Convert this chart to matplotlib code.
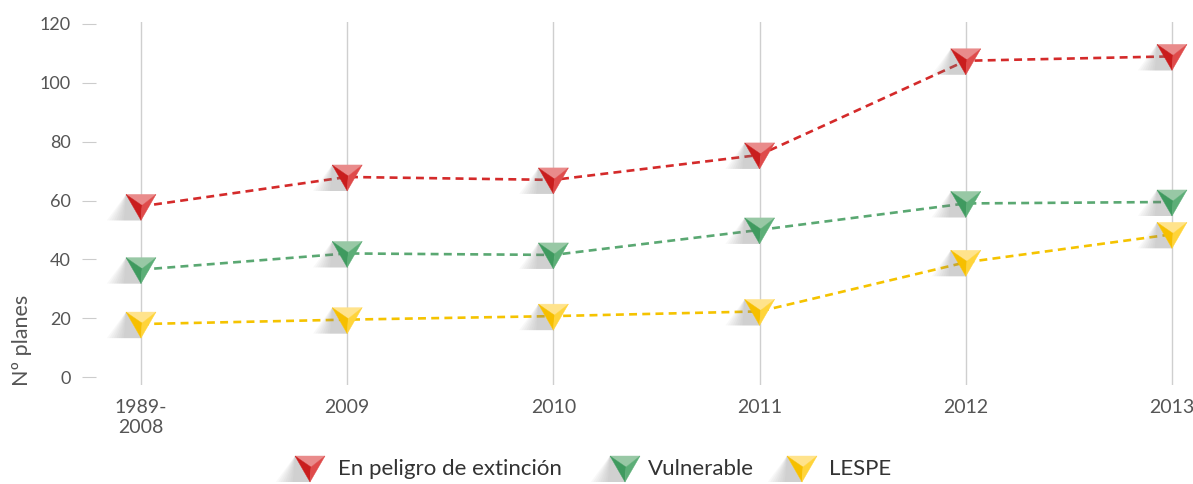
import matplotlib
matplotlib.use('agg')
import matplotlib.pyplot as plt
from matplotlib.patches import Polygon
from matplotlib import transforms

# Data
years = ['1989-\n2008', '2009', '2010', '2011', '2012', '2013']
peligro = [58, 68, 67, 75.5, 107.5, 109]
vulnerable = [36.5, 42, 41.5, 50, 59, 59.5]
lespe = [18, 19.5, 20.7, 22.3, 39, 48.5]

series = [
    ("En peligro de extinción", peligro, "#d42a2a", ("#e98b8b", "#c91d1d", "#df4b4b")),
    ("Vulnerable", vulnerable, "#5aa872", ("#98c8a5", "#3f9a5f", "#5cae77")),
    ("LESPE", lespe, "#f5c300", ("#ffe38c", "#f6bf00", "#ffd43a")),
]

plt.rcParams['font.family'] = ['Lato', 'DejaVu Sans']

fig = plt.figure(figsize=(11.93, 4.84), dpi=100)
W, H = 1193, 484
ax = fig.add_axes([96 / W, (H - 385) / H, (1193 - 96) / W, (385 - 22) / H])

step = 206.2
ax.set_xlim(-45 / step, (1193 - 141) / step)
ax.set_ylim(-8 / 2.942, 120 + 2 / 2.942)

for s in ax.spines.values():
    s.set_visible(False)

x = list(range(len(years)))
ax.set_xticks(x)
ax.set_xticklabels(years, fontsize=14, color="#555555", linespacing=1.2, va='top')
ax.set_yticks(range(0, 121, 20))
ax.tick_params(axis='x', length=0, pad=10)
ax.tick_params(axis='y', length=10, width=0.8, color="#cccccc", pad=8,
               labelsize=13, labelcolor="#555555")
for xi in x:
    ax.axvline(xi, color="#cfcfcf", lw=1.0, zorder=0)

fig.text(22 / W, 1 - 340 / H, "Nº planes", rotation=90, ha='center', va='center',
         fontsize=15.5, color="#555555")

px = transforms.Affine2D().scale(1 / 100.0) + fig.dpi_scale_trans

TL, TR, TIP, IN = (-15, 12), (15, 12), (0, -14), (1, 1)


def draw_marker(trans, faces, target):
    # soft shadow to the lower left
    for k in range(1, 9):
        sh = Polygon([TL, (-15 - k * 2.4, -14), TIP], closed=True,
                     facecolor="#808080", edgecolor='none', alpha=0.05,
                     transform=trans, zorder=4)
        target.add_artist(sh)
    top, left, right = faces
    for pts, c in [([TL, TR, IN], top), ([TL, IN, TIP], left), ([TR, IN, TIP], right)]:
        target.add_artist(Polygon(pts, closed=True, facecolor=c, edgecolor=c,
                                  lw=0.3, transform=trans, zorder=5))


for name, vals, lc, faces in series:
    ax.plot(x, vals, color=lc, lw=1.9, linestyle=(0, (3, 2)), zorder=3)
    for xi, v in zip(x, vals):
        tr = px + transforms.ScaledTranslation(xi, v, ax.transData)
        draw_marker(tr, faces, ax)

# Legend
leg_pos = [(310, 338), (625, 648), (802, 829)]
for (mx, tx), (name, vals, lc, faces) in zip(leg_pos, series):
    tr = px + transforms.ScaledTranslation(mx / W, 1 - 468 / H, fig.transFigure)
    draw_marker(tr, faces, fig)
    fig.text(tx / W, 1 - 469 / H, name, ha='left', va='center', fontsize=16,
             color="#333333")

fig.savefig("out.png", dpi=100)
